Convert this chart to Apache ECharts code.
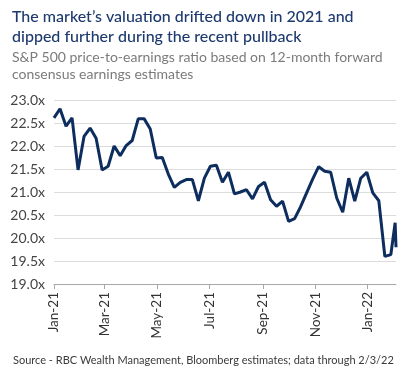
<!DOCTYPE html>
<html>
<head>
<meta charset="utf-8">
<script src="https://cdn.jsdelivr.net/npm/echarts@6/dist/echarts.min.js"></script>
<style>
html,body{margin:0;padding:0;background:#fff;}
#chart{width:408px;height:376px;}
</style>
</head>
<body>
<div id="chart"></div>
<script>
const titleText = "The market\u2019s valuation drifted down in 2021 and\ndipped further during the recent pullback";
const subtitleText = "S&P 500 price-to-earnings ratio based on 12-month forward\nconsensus earnings estimates";
const sourceText = "Source - RBC Wealth Management, Bloomberg estimates; data through 2/3/22";

const dates = [
  "2021-01-01","2021-01-08","2021-01-15","2021-01-22","2021-01-29",
  "2021-02-05","2021-02-12","2021-02-19","2021-02-26",
  "2021-03-05","2021-03-12","2021-03-19","2021-03-26",
  "2021-04-02","2021-04-09","2021-04-16","2021-04-23","2021-04-30",
  "2021-05-07","2021-05-14","2021-05-21","2021-05-28",
  "2021-06-04","2021-06-11","2021-06-18","2021-06-25",
  "2021-07-02","2021-07-09","2021-07-16","2021-07-23","2021-07-30",
  "2021-08-06","2021-08-13","2021-08-20","2021-08-27",
  "2021-09-03","2021-09-10","2021-09-17","2021-09-24",
  "2021-10-01","2021-10-08","2021-10-15","2021-10-22","2021-10-29",
  "2021-11-05","2021-11-12","2021-11-19","2021-11-26",
  "2021-12-03","2021-12-10","2021-12-17","2021-12-24","2021-12-31",
  "2022-01-07","2022-01-14","2022-01-21","2022-01-28",
  "2022-02-02","2022-02-03"
];
const peRatio = [
  22.61, 22.81, 22.43, 22.61, 21.48,
  22.21, 22.39, 22.17, 21.48,
  21.56, 22.00, 21.79, 22.01,
  22.12, 22.59, 22.59, 22.37, 21.74,
  21.75, 21.39, 21.10, 21.21,
  21.27, 21.27, 20.81, 21.30,
  21.56, 21.58, 21.21, 21.43, 20.96,
  21.00, 21.05, 20.85, 21.12,
  21.21, 20.83, 20.69, 20.80,
  20.36, 20.42, 20.68, 20.98, 21.28,
  21.55, 21.45, 21.43, 20.87,
  20.56, 21.30, 20.80, 21.30, 21.43,
  20.98, 20.81, 19.60, 19.64,
  20.33, 19.80
];
const tickDates = ["2021-01-01","2021-03-01","2021-05-01","2021-07-01","2021-09-01","2021-11-01","2022-01-01"];
const tickLabels = ["Jan-21","Mar-21","May-21","Jul-21","Sep-21","Nov-21","Jan-22"];
const yTicks = [19.0, 19.5, 20.0, 20.5, 21.0, 21.5, 22.0, 22.5, 23.0];

function ts(s){ const p = s.split('-').map(Number); return Date.UTC(p[0], p[1]-1, p[2]); }
const tickTs = tickDates.map(ts);
function labelFor(v){
  let best = 0, bd = Infinity;
  tickTs.forEach((t,i)=>{ const d = Math.abs(t - v); if (d < bd) { bd = d; best = i; } });
  return bd < 86400000 ? tickLabels[best] : '';
}

const font = "Lato, 'Open Sans', sans-serif";
const chart = echarts.init(document.getElementById('chart'), null, {renderer:'canvas'});
chart.setOption({
  backgroundColor: '#ffffff',
  animation: false,
  title: [
    { text: titleText, left: 7, top: 2,
      textStyle: { fontFamily: font, fontSize: 16, fontWeight: 500, color: '#1d3a6e', lineHeight: 20 } },
    { text: subtitleText, left: 7, top: 44,
      textStyle: { fontFamily: font, fontSize: 14, fontWeight: 'normal', color: '#7b7b7b', lineHeight: 17 } },
    { text: sourceText, left: 8, top: 350,
      textStyle: { fontFamily: font, fontSize: 11, fontWeight: 'normal', color: '#3a3a3a' } }
  ],
  grid: { left: 54, right: 12, top: 100, bottom: 92, containLabel: false },
  xAxis: {
    type: 'value',
    min: ts(dates[0]),
    max: ts(dates[dates.length-1]),
    axisLine: { show: true, onZero: false, lineStyle: { color: '#a8a8a8', width: 1 } },
    axisTick: { show: true, customValues: tickTs, length: 5, lineStyle: { color: '#a8a8a8' } },
    axisLabel: {
      customValues: tickTs, rotate: 90, margin: 8,
      fontFamily: font, fontSize: 13.5, color: '#333',
      formatter: function(v){ return labelFor(v); }
    },
    splitLine: { show: false }
  },
  yAxis: {
    type: 'value', min: yTicks[0], max: yTicks[yTicks.length-1], interval: 0.5,
    axisLine: { show: false }, axisTick: { show: false },
    axisLabel: { fontFamily: font, fontSize: 14, color: '#444', margin: 9,
      formatter: function(v){ return v.toFixed(1) + 'x'; } },
    splitLine: { show: true, lineStyle: { color: '#dcdcdc', width: 1 } }
  },
  series: [{
    type: 'line',
    data: dates.map((d,i)=>[ts(d), peRatio[i]]),
    showSymbol: false,
    lineStyle: { color: '#0d2d5e', width: 3 },
    itemStyle: { color: '#0d2d5e' }
  }]
});
</script>
</body>
</html>
